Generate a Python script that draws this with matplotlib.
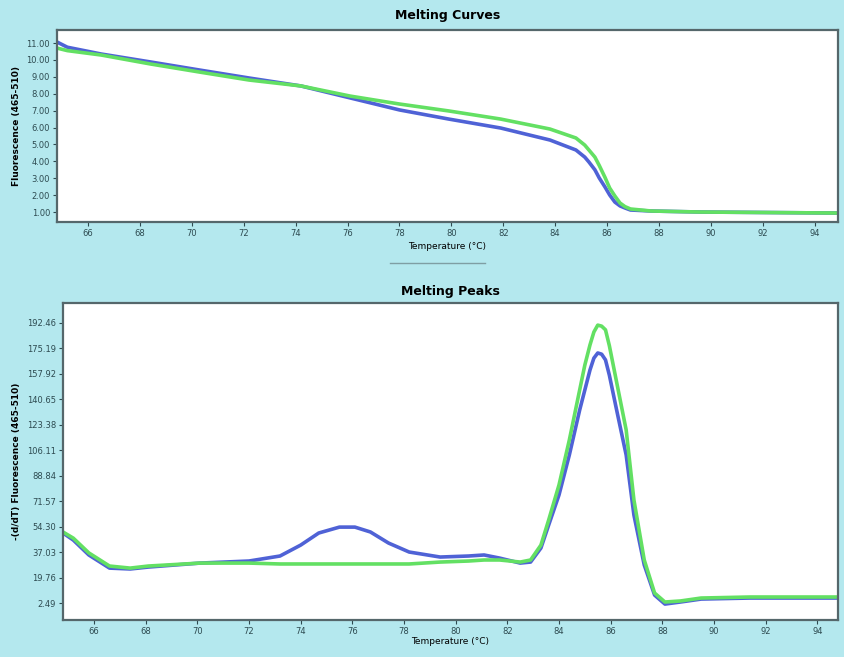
import matplotlib
matplotlib.use("Agg")
import matplotlib.pyplot as plt
from matplotlib.lines import Line2D

# Melting curves: temperature (°C) vs fluorescence
curve_temp = [64.8, 65.2, 66.5, 68.4, 70.3, 72.2, 74.2, 76.1, 78.0, 79.9, 81.9,
              83.8, 84.8, 85.14, 85.3, 85.53, 85.7, 85.92, 86.1, 86.3, 86.5, 86.69,
              86.9, 87.7, 89.6, 94.9]
curve_blue = [11.06, 10.75, 10.35, 9.88, 9.40, 8.93, 8.46, 7.75, 7.04, 6.50, 5.97,
              5.26, 4.67, 4.25, 3.96, 3.50, 3.01, 2.48, 2.01, 1.59, 1.36, 1.24,
              1.12, 1.06, 1.00, 0.94]
curve_green = [10.70, 10.55, 10.29, 9.76, 9.28, 8.81, 8.46, 7.86, 7.39, 6.98, 6.50,
               5.91, 5.38, 4.96, 4.67, 4.25, 3.75, 3.05, 2.42, 1.95, 1.53, 1.32,
               1.18, 1.06, 1.00, 0.94]

# Melting peaks: temperature (°C) vs -(d/dT) fluorescence
peak_temp = [64.8, 65.2, 65.8, 66.6, 67.4, 68.1, 70.1, 72.0, 73.2, 74.0, 74.7, 75.5,
             76.1, 76.7, 77.4, 78.2, 79.4, 80.5, 81.1, 81.7, 82.5, 82.9, 83.3, 83.6,
             84.0, 84.4, 84.8, 85.0, 85.2, 85.35, 85.5, 85.65, 85.8, 85.95, 86.2, 86.6,
             86.9, 87.3, 87.7, 88.1, 88.7, 89.5, 91.4, 94.8]
peak_blue = [50.0, 45.2, 35.1, 26.2, 25.6, 26.9, 29.6, 31.0, 34.4, 41.8, 50.0, 54.0,
             54.0, 50.7, 43.2, 37.1, 33.7, 34.4, 35.1, 33.0, 29.6, 30.3, 39.8, 55.4,
             75.8, 102.9, 133.4, 147.0, 160.6, 168.6, 172.1, 171.3, 167.4, 157.0, 136.0,
             102.9, 62.2, 28.3, 7.9, 1.8, 3.2, 5.2, 5.9, 5.9]
peak_green = [50.7, 46.5, 36.5, 27.6, 26.2, 27.6, 29.6, 29.6, 29.0, 29.0, 29.0, 29.0,
              29.0, 29.0, 29.0, 29.0, 30.3, 31.0, 31.7, 31.7, 30.3, 31.7, 41.8, 58.8,
              82.6, 113.1, 147.0, 163.9, 177.6, 186.3, 191.0, 190.3, 187.8, 177.0, 155.0,
              119.9, 72.4, 31.7, 9.3, 3.2, 3.9, 5.9, 6.6, 6.6]

x_ticks = list(range(66, 96, 2))
curve_yticks = [1.00, 2.00, 3.00, 4.00, 5.00, 6.00, 7.00, 8.00, 9.00, 10.00, 11.00]
peak_yticks = [2.49, 19.76, 37.03, 54.30, 71.57, 88.84, 106.11, 123.38, 140.65,
               157.92, 175.19, 192.46]

BG = "#b4e8ee"
BLUE = "#4f62d6"
GREEN = "#63e063"
FRAME = "#55676b"

fig = plt.figure(figsize=(8.44, 6.57), dpi=100, facecolor=BG)

ax1 = fig.add_axes([57 / 844, 1 - 222 / 657, 781 / 844, 192 / 657])
ax2 = fig.add_axes([63 / 844, 1 - 620 / 657, 775 / 844, 317 / 657])

ax1.plot(curve_temp, curve_blue, color=BLUE, lw=2.6, solid_capstyle="round",
         solid_joinstyle="round")
ax1.plot(curve_temp, curve_green, color=GREEN, lw=2.6, solid_capstyle="round",
         solid_joinstyle="round")
ax1.set_xlim(64.8, 94.9)
ax1.set_ylim(0.41, 11.77)
ax1.set_yticks(curve_yticks)
ax1.set_yticklabels([f"{v:.2f}" for v in curve_yticks])

ax2.plot(peak_temp, peak_blue, color=BLUE, lw=2.6, solid_capstyle="round",
         solid_joinstyle="round")
ax2.plot(peak_temp, peak_green, color=GREEN, lw=2.6, solid_capstyle="round",
         solid_joinstyle="round")
ax2.set_xlim(64.8, 94.8)
ax2.set_ylim(-9.0, 206.0)
ax2.set_yticks(peak_yticks)
ax2.set_yticklabels([f"{v:.2f}" for v in peak_yticks])

for ax in (ax1, ax2):
    ax.set_facecolor("white")
    ax.set_xticks(x_ticks)
    ax.set_xticklabels([str(t) for t in x_ticks])
    ax.tick_params(labelsize=6, colors="#2d4a50", length=3, width=0.8, pad=2)
    for s in ax.spines.values():
        s.set_color(FRAME)
        s.set_linewidth(1.6)

ax1.set_title("Melting Curves", fontsize=9, fontweight="bold", pad=8)
ax2.set_title("Melting Peaks", fontsize=9, fontweight="bold", pad=6)
ax1.set_xlabel("Temperature (°C)", fontsize=6.5, labelpad=3)
ax2.set_xlabel("Temperature (°C)", fontsize=6.5, labelpad=1)
ax1.set_ylabel("Fluorescence (465-510)", fontsize=6.5, fontweight="bold", labelpad=4)
ax2.set_ylabel("-(d/dT) Fluorescence (465-510)", fontsize=6.5, fontweight="bold", labelpad=4)

# thin scroll bar under the upper temperature axis
fig.add_artist(Line2D([390 / 844, 485 / 844], [1 - 263 / 657, 1 - 263 / 657],
                      color="#7f9ea3", lw=1.0))

fig.savefig("out.png", dpi=100, facecolor=BG)
